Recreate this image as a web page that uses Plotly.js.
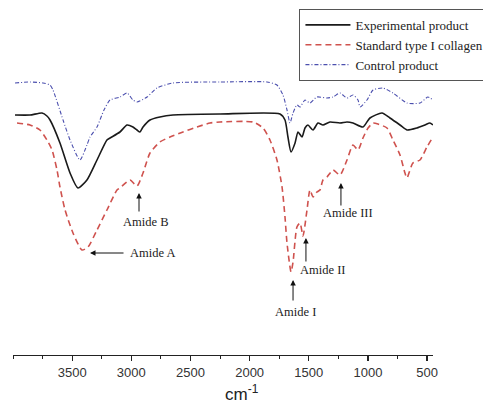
<!DOCTYPE html>
<html>
<head>
<meta charset="utf-8">
<script src="https://cdn.plot.ly/plotly-3.0.1.min.js"></script>
<style>html,body{margin:0;padding:0;background:#fff;}#chart{width:483px;height:407px;}</style>
</head>
<body>
<div id="chart"></div>
<script>
// Wavenumbers (cm-1) and relative transmittance (arbitrary units)
var expWave = [3983,3856,3755,3713,3687,3603,3518,3451,3375,3290,3206,3180,3096,3036,2986,2952,2927,2901,2842,2758,2648,2250,1743,1701,1676,1650,1616,1591,1557,1532,1507,1464,1422,1380,1321,1236,1177,1126,1042,983,881,814,729,670,586,518,476,450];
var expT    = [240,240,242,239,235,212,182,167,175,195,215,217,223,230,228,225,223,228,235,238,240,241,241,235,218,203,212,223,218,227,230,225,232,230,233,232,233,232,228,237,242,237,230,225,227,230,232,230];

var stdWave = [3966,3856,3772,3713,3670,3628,3603,3560,3493,3417,3366,3290,3206,3121,3096,3011,2952,2901,2842,2758,2673,2563,2445,2335,2250,1972,1887,1828,1769,1726,1701,1684,1650,1633,1600,1574,1549,1515,1490,1464,1431,1405,1380,1346,1295,1236,1177,1126,1084,1042,999,957,915,839,788,729,687,670,620,560,501,450];
var stdT    = [232,230,225,215,205,185,168,145,122,105,108,125,145,165,167,175,169,182,202,213,218,223,228,232,233,233,227,215,195,168,138,112,83,93,128,132,119,145,165,158,163,165,175,178,185,180,195,210,205,217,227,232,231,227,215,200,182,177,192,195,208,218];

var ctlWave = [3983,3856,3746,3687,3662,3577,3518,3434,3375,3349,3290,3231,3180,3096,3036,2986,2952,2867,2783,2648,2250,1853,1769,1718,1684,1659,1633,1600,1574,1532,1490,1431,1346,1295,1236,1177,1126,1084,1067,1008,957,873,788,670,560,493,450];
var ctlT    = [272,273,272,270,265,235,215,195,210,218,228,245,255,258,262,255,253,258,267,272,273,273,270,260,245,232,242,250,248,255,252,258,257,258,262,257,260,255,248,255,265,267,262,252,252,258,255];

var seriesNames = ['Experimental product','Standard type I collagen','Control product'];

// Peak annotations: arrow heads and label positions (wavenumber, T)
var peakLabels = ['Amide A','Amide B','Amide I','Amide II','Amide III'];
var peakHeadW  = [3349, 2935, 1633, 1524, 1228];
var peakHeadT  = [102, 162, 75, 117, 172];
var peakTextW  = [2825, 2884, 1616, 1388, 1169];
var peakTextT  = [102, 133, 43, 85, 142];
var arrowAx    = [35, 0, 0, 0, 0];
var arrowAy    = [0, 20, 22, 25, 24];

var tickVals = [3500,3000,2500,2000,1500,1000,500];
var tickText = ['3500','3000','2500','2000','1500','1000','500'];

var traces = [
  {x: expWave, y: expT, name: seriesNames[0], type: 'scatter', mode: 'lines',
   line: {color: '#1a1a1a', width: 1.6, shape: 'spline', smoothing: 0.6}},
  {x: stdWave, y: stdT, name: seriesNames[1], type: 'scatter', mode: 'lines',
   line: {color: '#cf524e', width: 1.6, dash: '6px,4px', shape: 'spline', smoothing: 0.6}},
  {x: ctlWave, y: ctlT, name: seriesNames[2], type: 'scatter', mode: 'lines',
   line: {color: '#4b4fae', width: 1.1, dash: '4px,2px,1px,2px', shape: 'spline', smoothing: 0.6}}
];

var annFont = {family: '"Liberation Serif", "Times New Roman", serif', size: 12.5, color: '#222'};
var annotations = [];
for (var i = 0; i < peakLabels.length; i++) {
  annotations.push({x: peakHeadW[i], y: peakHeadT[i], xref: 'x', yref: 'y', text: '',
    showarrow: true, arrowhead: 2, arrowsize: 1.1, arrowwidth: 1, arrowcolor: '#111',
    ax: arrowAx[i], ay: arrowAy[i]});
  annotations.push({x: peakTextW[i], y: peakTextT[i], xref: 'x', yref: 'y', text: peakLabels[i],
    showarrow: false, font: annFont, xanchor: 'center', yanchor: 'middle'});
}
annotations.push({x: 0.545, y: -0.107, xref: 'paper', yref: 'paper', text: 'cm<sup>-1</sup>',
  showarrow: false, xanchor: 'center', yanchor: 'middle',
  font: {family: '"Liberation Sans", Arial, sans-serif', size: 17, color: '#222'}});

var layout = {
  width: 483, height: 407,
  margin: {l: 13, r: 50, t: 0, b: 52, autoexpand: false},
  paper_bgcolor: '#fff', plot_bgcolor: '#fff',
  showlegend: true,
  legend: {x: 0.682, y: 0.975, xanchor: 'left', yanchor: 'top',
    bgcolor: '#fff', bordercolor: '#555', borderwidth: 1,
    font: {family: '"Liberation Serif", "Times New Roman", serif', size: 13, color: '#222'},
    itemwidth: 45, tracegroupgap: 0},
  xaxis: {range: [4000, 450], showgrid: false, zeroline: false,
    showline: true, linecolor: '#222', linewidth: 1.3,
    tickmode: 'array', tickvals: tickVals, ticktext: tickText,
    ticks: 'outside', ticklen: 5, tickwidth: 1.2, tickcolor: '#222',
    minor: {dtick: 250, tick0: 0, ticks: 'outside', ticklen: 3, tickwidth: 1, tickcolor: '#222'},
    tickfont: {family: '"Liberation Sans", Arial, sans-serif', size: 13, color: '#333'}},
  yaxis: {range: [0, 355], visible: false, fixedrange: true},
  annotations: annotations
};

Plotly.newPlot('chart', traces, layout, {displayModeBar: false, staticPlot: true});
</script>
</body>
</html>
